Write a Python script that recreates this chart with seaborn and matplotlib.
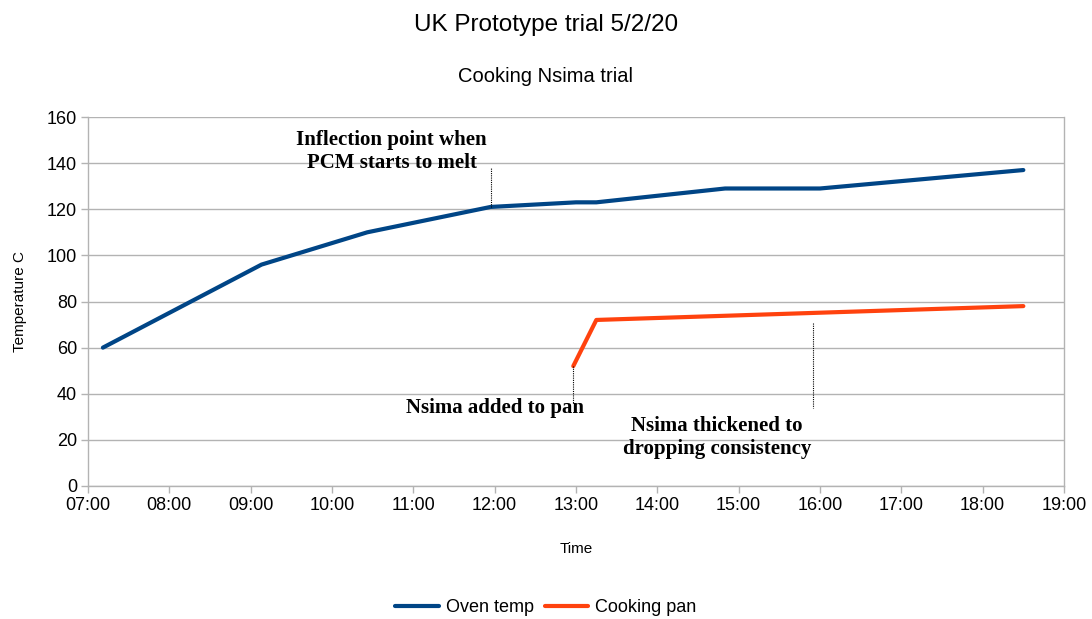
import pandas as pd
import matplotlib.pyplot as plt
import matplotlib.dates as mdates
from matplotlib.lines import Line2D
import seaborn as sns

# Data
oven_times = ["07:11", "09:08", "10:26", "11:57", "13:00", "13:15", "14:50", "16:00", "18:30"]
oven_temps = [60, 96, 110, 121, 123, 123, 129, 129, 137]
pan_times = ["12:58", "13:15", "18:30"]
pan_temps = [52, 72, 78]

DAY = "2020-02-05 "

def to_dt(t):
    return pd.to_datetime(DAY + t)

oven = pd.DataFrame({"Time": [to_dt(t) for t in oven_times], "Temp": oven_temps, "Series": "Oven temp"})
pan = pd.DataFrame({"Time": [to_dt(t) for t in pan_times], "Temp": pan_temps, "Series": "Cooking pan"})
df = pd.concat([oven, pan], ignore_index=True)

sns.set_theme(style="whitegrid")
plt.rcParams["font.family"] = ["Liberation Sans", "DejaVu Sans"]
plt.rcParams["text.color"] = "black"
plt.rcParams["axes.labelcolor"] = "black"

fig, ax = plt.subplots(figsize=(10.92, 6.19), dpi=100)
fig.subplots_adjust(left=88 / 1092, right=1064 / 1092, top=1 - 117 / 619, bottom=1 - 486 / 619)

sns.lineplot(data=df, x="Time", y="Temp", hue="Series",
             palette={"Oven temp": "#004586", "Cooking pan": "#ff420e"},
             linewidth=3, ax=ax, legend=False)

ax.set_xlim(to_dt("07:00"), to_dt("19:00"))
ax.set_ylim(0, 160)
ax.set_yticks(range(0, 161, 20))
ax.xaxis.set_major_locator(mdates.HourLocator(interval=1))
ax.xaxis.set_major_formatter(mdates.DateFormatter("%H:%M"))

ax.grid(axis="x", visible=False)
ax.grid(axis="y", color="#b3b3b3", linewidth=1)
for side in ["left", "right", "bottom"]:
    ax.spines[side].set_color("#b3b3b3")
    ax.spines[side].set_linewidth(1)
ax.spines["top"].set_visible(False)
ax.tick_params(axis="both", which="major", length=5, width=1, color="#b3b3b3",
               labelsize=13, labelcolor="black", pad=3, direction="out",
               bottom=True, left=True)

ax.set_xlabel("Time", fontsize=11, labelpad=20)
ax.set_ylabel("Temperature C", fontsize=11, labelpad=14)

fig.text(0.5, 1 - 25 / 619, "UK Prototype trial 5/2/20", ha="center", va="center", fontsize=17.5)
fig.text(0.5, 1 - 76 / 619, "Cooking Nsima trial", ha="center", va="center", fontsize=14.5)

# Annotations
note_font = dict(family=["Liberation Serif", "DejaVu Serif"], fontweight="bold", fontsize=15,
                 color="black", ha="center", va="center", linespacing=1.25)
dotted = dict(color="black", linestyle=(0, (1, 1)), linewidth=0.8)
ax.text(to_dt("10:44"), 145, "Inflection point when\nPCM starts to melt", **note_font)
ax.plot([to_dt("11:57"), to_dt("11:57")], [121, 138], **dotted)

ax.text(to_dt("12:00"), 34, "Nsima added to pan", **note_font)
ax.plot([to_dt("12:58"), to_dt("12:58")], [52, 36], **dotted)

ax.text(to_dt("14:44"), 21, "Nsima thickened to\ndropping consistency", **note_font)
ax.plot([to_dt("15:55"), to_dt("15:55")], [70.5, 34], **dotted)

# Legend at bottom
handles = [Line2D([], [], color="#004586", linewidth=3), Line2D([], [], color="#ff420e", linewidth=3)]
fig.legend(handles, ["Oven temp", "Cooking pan"], loc="center", bbox_to_anchor=(0.5, 1 - 608 / 619),
           ncol=2, frameon=False, fontsize=13, handlelength=2.4, handletextpad=0.4, columnspacing=0.6,
           borderpad=0.1)

fig.savefig("out.png", dpi=100)
